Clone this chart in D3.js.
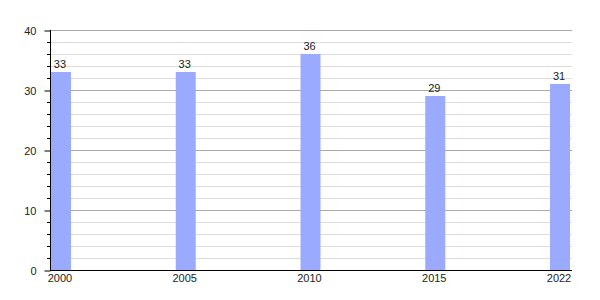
<!DOCTYPE html>
<html>
<head>
<meta charset="utf-8">
<script src="https://cdn.jsdelivr.net/npm/d3@7"></script>
<style>
  body { margin: 0; background: #fff; }
  text { font-family: "Liberation Sans", Arial, sans-serif; font-size: 11px; fill: #222; }
</style>
</head>
<body>
<script>
var years = ["2000", "2005", "2010", "2015", "2022"];
var values = [33, 33, 36, 29, 31];
var yTicks = [0, 10, 20, 30, 40];

var W = 600, H = 300;
var plotLeft = 50, plotRight = 572, plotTop = 30, plotBottom = 270;

var svg = d3.select("body").append("svg")
    .attr("width", W).attr("height", H);

var y = d3.scaleLinear().domain([0, 40]).range([plotBottom, plotTop]);
var x = d3.scaleBand().domain(years)
    .range([51, 570]).paddingInner(0.84).paddingOuter(0);

// minor gridlines every 2
var minor = d3.range(2, 40, 2).filter(function(v) { return v % 10 != 0; });
svg.selectAll(".minor").data(minor).enter().append("line")
    .attr("x1", plotLeft).attr("x2", plotRight)
    .attr("y1", function(d) { return y(d) + 0.5; })
    .attr("y2", function(d) { return y(d) + 0.5; })
    .attr("stroke", "#dddddd").attr("stroke-width", 1);

// major gridlines
svg.selectAll(".major").data(yTicks.slice(1)).enter().append("line")
    .attr("x1", plotLeft).attr("x2", plotRight)
    .attr("y1", function(d) { return y(d) + 0.5; })
    .attr("y2", function(d) { return y(d) + 0.5; })
    .attr("stroke", "#aaaaaa").attr("stroke-width", 1);

// bars
svg.selectAll(".bar").data(values).enter().append("rect")
    .attr("x", function(d, i) { return x(years[i]); })
    .attr("y", function(d) { return y(d); })
    .attr("width", x.bandwidth())
    .attr("height", function(d) { return plotBottom - y(d); })
    .attr("fill", "#99aaff");

// value labels
svg.selectAll(".val").data(values).enter().append("text")
    .attr("x", function(d, i) { return x(years[i]) + x.bandwidth() / 2 - 1; })
    .attr("y", function(d) { return y(d) - 4; })
    .attr("text-anchor", "middle")
    .text(function(d) { return d; });

// y axis with minor ticks
svg.selectAll(".mtick").data(minor).enter().append("line")
    .attr("x1", plotLeft - 3).attr("x2", plotLeft)
    .attr("y1", function(d) { return y(d) + 0.5; })
    .attr("y2", function(d) { return y(d) + 0.5; })
    .attr("stroke", "#000");

var yAxis = d3.axisLeft(y).tickValues(yTicks).tickSize(6).tickPadding(8);
var gy = svg.append("g")
    .attr("transform", "translate(" + (plotLeft + 0.5) + ",0.5)")
    .call(yAxis);
gy.select(".domain").remove();
gy.selectAll("text").style("font-size", "11px").attr("fill", "#222")
    .style("font-family", '"Liberation Sans", Arial, sans-serif');

svg.append("line")
    .attr("x1", plotLeft + 0.5).attr("x2", plotLeft + 0.5)
    .attr("y1", plotTop).attr("y2", plotBottom)
    .attr("stroke", "#000");

// x axis
svg.append("line")
    .attr("x1", plotLeft).attr("x2", plotRight)
    .attr("y1", plotBottom + 0.5).attr("y2", plotBottom + 0.5)
    .attr("stroke", "#000");

svg.selectAll(".xlab").data(years).enter().append("text")
    .attr("x", function(d) { return x(d) + x.bandwidth() / 2 - 1; })
    .attr("y", plotBottom + 12)
    .attr("text-anchor", "middle")
    .text(function(d) { return d; });
</script>
</body>
</html>
